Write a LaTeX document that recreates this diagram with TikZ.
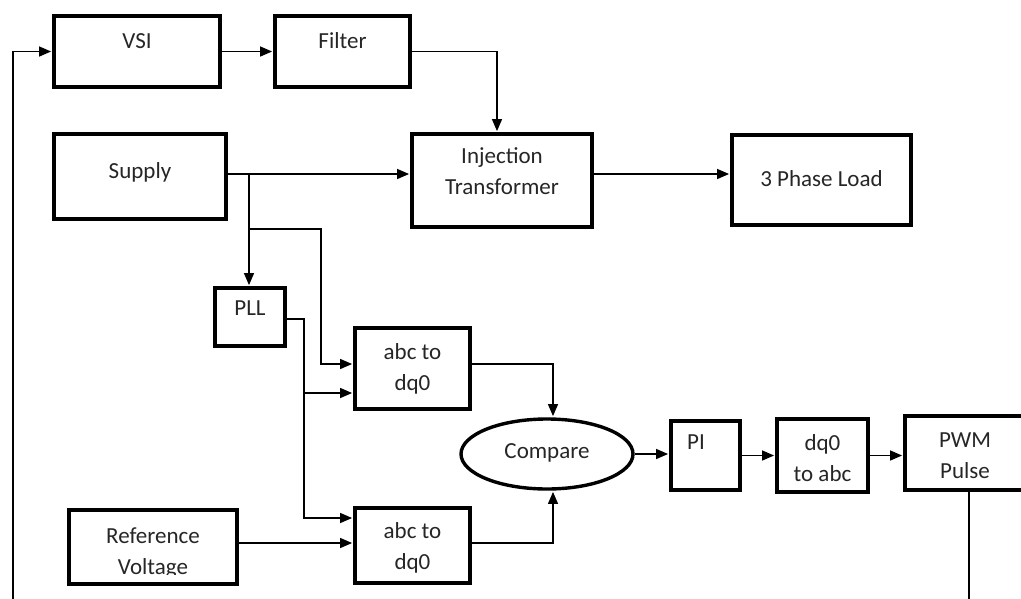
\documentclass[tikz,border=0pt]{standalone}
\usepackage{fontspec}
\setmainfont{Carlito}
\usetikzlibrary{arrows.meta,shapes.geometric}
\newcommand\bt[2]{\raisebox{#1}[\height][\depth]{\begin{tabular}{@{}c@{}}#2\end{tabular}}}
\definecolor{txtgray}{RGB}{38,38,38}
\begin{document}
\begin{tikzpicture}[x=1pt,y=-1pt,
  box/.style={draw=black, line width=3.4pt, rectangle, inner sep=0pt,
    text=txtgray, font=\fontsize{23}{31}\selectfont},
  oval/.style={draw=black, line width=3.4pt, ellipse, inner sep=0pt,
    text=txtgray, font=\fontsize{23}{31}\selectfont},
  arr/.style={line width=1.3pt, -{Triangle[length=12pt,width=10pt]}, shorten >=1.2pt},
  ln/.style={line width=1.3pt}]
\useasboundingbox (0,0) rectangle (1021,598);
\clip (0,0) rectangle (1021,598);
\fill[white] (0,0) rectangle (1021,598);

% boxes
\node[box, minimum width=166pt, minimum height=71pt] (vsi) at (137,51.5) {\bt{9pt}{VSI}};
\node[box, minimum width=135pt, minimum height=71pt] (filter) at (342.5,51.5) {\bt{9pt}{Filter}};
\node[box, minimum width=172pt, minimum height=85pt] (supply) at (140,176.5) {\bt{4.5pt}{Supply}};
\node[box, minimum width=180pt, minimum height=93pt] (inj) at (502,180.5) {\bt{8pt}{Injection\\Transformer}};
\node[box, minimum width=179pt, minimum height=90pt] (load) at (821.5,180) {\bt{0pt}{3 Phase Load}};
\node[box, minimum width=70pt, minimum height=58pt] (pll) at (250,317) {\bt{8pt}{PLL}};
\node[box, minimum width=115pt, minimum height=81pt] (abc1) at (412.5,368.5) {\bt{0pt}{abc to\\dq0}};
\node[box, minimum width=115pt, minimum height=75pt] (abc2) at (412.5,545.5) {\bt{-2pt}{abc to\\dq0}};
\node[oval, minimum width=172pt, minimum height=70pt] (cmp) at (547,454) {\bt{2pt}{Compare}};
\node[box, minimum width=69pt, minimum height=69pt] (pi) at (705.5,455.5) {\bt{12.5pt}{PI}\hspace*{19pt}};
\node[box, minimum width=91pt, minimum height=73pt] (dq) at (822.5,455.5) {\bt{-4pt}{dq0\\to abc}};
\node[box, minimum width=128pt, minimum height=74pt] (pwm) at (969,453) {\bt{-3.5pt}{PWM\\Pulse}\hspace*{8pt}};
\node[box, minimum width=168pt, minimum height=74pt] (ref) at (153,547) {};
\begin{scope}
  \clip (60,500) rectangle (245,574);
  \node[text=txtgray, font=\fontsize{23}{31}\selectfont, inner sep=0pt] at ([yshift=-5.5pt]ref.center) {\begin{tabular}{@{}c@{}}Reference\\Voltage\end{tabular}};
\end{scope}

% junctions
\coordinate (sj) at (249,174);
\coordinate (j2) at (321,229);
\coordinate (p1) at (304,319);
\coordinate (p2) at (304,393);
\coordinate (fb1) at (969,640);
\coordinate (fb2) at (13,640);

% connectors
\draw[arr] (vsi.east) -- (filter.west);
\draw[arr] (filter.east) -| ([xshift=-5pt]inj.north);
\draw[arr] (supply.east |- sj) -- (inj.west |- sj);
\draw[arr] (sj) -- (sj |- pll.north);
\draw[arr] (sj) |- (j2) |- ([yshift=4.5pt]abc1.west);
\draw[arr] (pll.east |- p1) -- (p1) |- ([yshift=27.5pt]abc2.west);
\draw[arr] (p2) -- ([yshift=-24.5pt]abc1.west);
\draw[arr] (ref.east |- 0,543) -- ([yshift=2.5pt]abc2.west);
\draw[arr] ([yshift=4.5pt]abc1.east) -| ([xshift=6pt]cmp.north);
\draw[arr] ([yshift=2.5pt]abc2.east) -| ([xshift=6pt]cmp.south);
\draw[arr] (cmp.east) -- (pi.west |- cmp.east);
\draw[arr] (pi.east) -- (dq.west);
\draw[arr] (dq.east) -- (dq.east -| pwm.west);
\draw[arr] ([yshift=6.5pt]inj.east) -- ([yshift=6.5pt]inj.east -| load.west);
\draw[arr] (pwm.south) -- (fb1) -- (fb2) |- (vsi.west);
\end{tikzpicture}
\end{document}
